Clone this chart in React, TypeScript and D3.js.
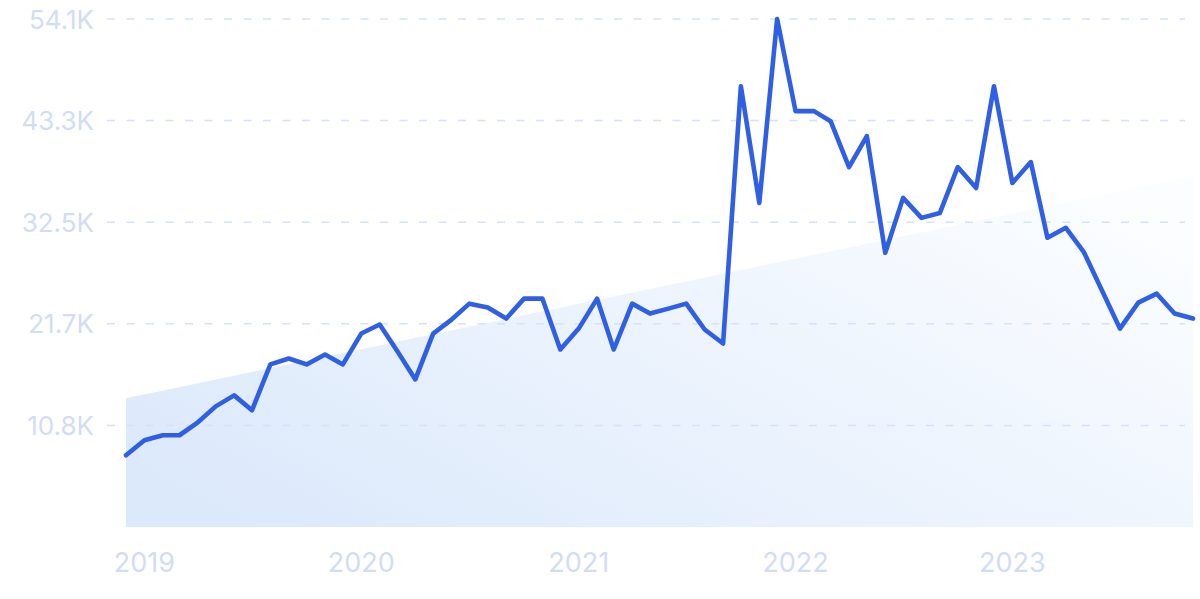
import * as d3 from 'd3';

// monthly values, Dec 2018 .. Nov 2023
const startMonth = new Date(2018, 11, 1);
const values = [
  7650, 9250, 9780, 9780, 11160, 12860, 14030, 12440, 17330, 17960, 17330, 18390,
  17330, 20620, 21580, 18820, 15730, 20620, 22110, 23810, 23390, 22220, 24340, 24340,
  18920, 21150, 24340, 18920, 23810, 22750, 23280, 23810, 21050, 19560, 46980, 34550,
  54150, 44330, 44330, 43260, 38370, 41670, 29230, 35080, 32950, 33480, 38370, 36140,
  46980, 36670, 38900, 30830, 31890, 29340, 25190, 21150, 23920, 24870, 22750, 22220,
];
const yTicks = [10830, 21660, 32490, 43320, 54150];
const yTickLabels = ['10.8K', '21.7K', '32.5K', '43.3K', '54.1K'];
const yearLabels = [2019, 2020, 2021, 2022, 2023];
// trend band end values
const trendStart = 13720;
const trendEnd = 37450;

const width = 1200;
const height = 599;

function App() {
  const dates = values.map((_, i) => d3.timeMonth.offset(startMonth, i));
  const x = d3.scaleTime()
    .domain([dates[0], dates[dates.length - 1]])
    .range([126, 1193]);
  const y = d3.scaleLinear().domain([0, 54150]).range([527, 19]);

  const line = d3.line<number>((_, i) => x(dates[i]), (d) => y(d));
  const trend = d3.area<number>()
    .x((_, i) => x(i === 0 ? dates[0] : dates[dates.length - 1]))
    .y0(y(0))
    .y1((d) => y(d));

  return (
    <svg
      width={width}
      height={height}
      style={{ position: 'absolute', left: 0, top: 0, background: '#fff' }}
      fontFamily="Inter, 'Noto Sans', sans-serif"
    >
      <defs>
        <linearGradient id="trendFill" x1="0" y1="0.8" x2="1" y2="0.2">
          <stop offset="0" stopColor="#dce9fb" />
          <stop offset="1" stopColor="#fbfdff" />
        </linearGradient>
      </defs>
      <path d={trend([trendStart, trendEnd]) ?? undefined} fill="url(#trendFill)" />
      <g stroke="#d4e2fb" strokeWidth={1.5} strokeDasharray="8 11.5">
        {yTicks.map((t) => (
          <line key={t} x1={107} x2={1185} y1={y(t)} y2={y(t)} />
        ))}
      </g>
      <g fill="#d3dcf5" fontSize={26} textAnchor="end">
        {yTicks.map((t, i) => (
          <text key={t} x={94} y={y(t)} dominantBaseline="central">
            {yTickLabels[i]}
          </text>
        ))}
      </g>
      <g fill="#d3dcf5" fontSize={27} textAnchor="middle">
        {yearLabels.map((yr) => (
          <text key={yr} x={x(new Date(yr, 0, 1))} y={562} dominantBaseline="central">
            {yr}
          </text>
        ))}
      </g>
      <path
        d={line(values) ?? undefined}
        fill="none"
        stroke="#2f5fe4"
        strokeWidth={4.6}
        strokeLinejoin="round"
        strokeLinecap="round"
      />
    </svg>
  );
}

export default App;
